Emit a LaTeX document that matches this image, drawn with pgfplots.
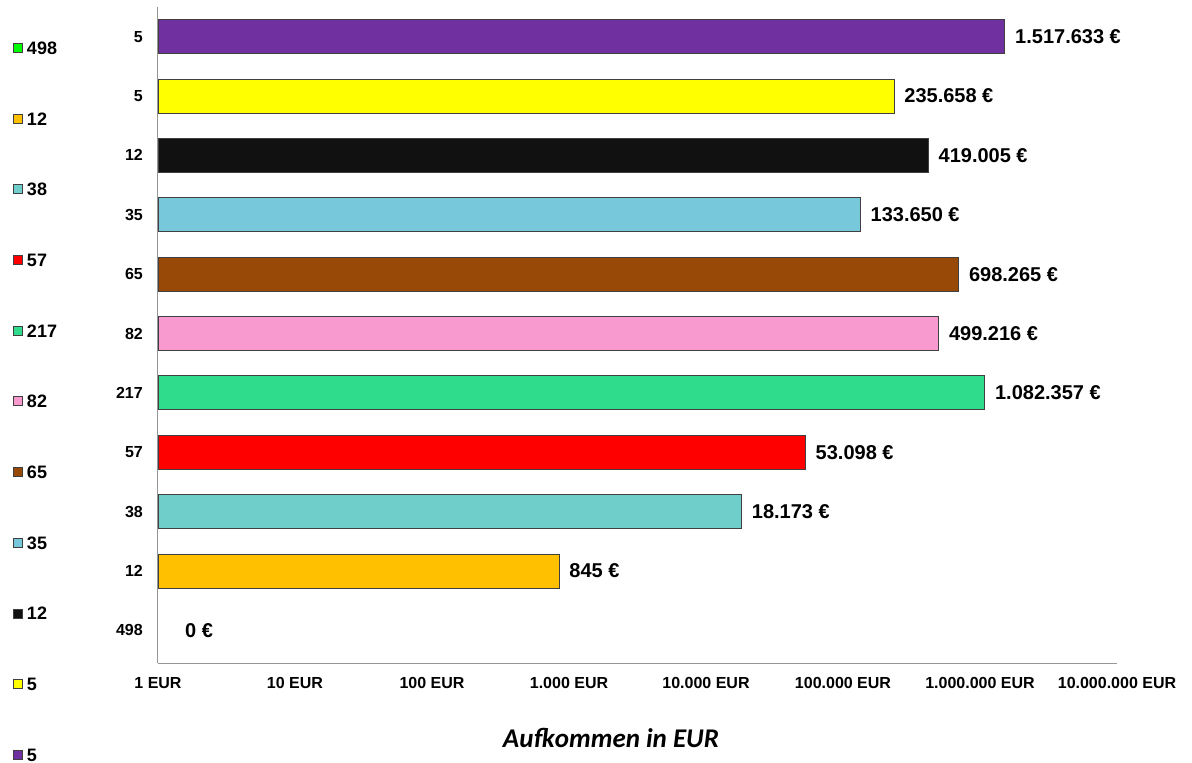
\documentclass[border=0pt]{standalone}
\usepackage{fontspec}
\setmainfont{Liberation Sans}
\newfontfamily\carlito{Carlito}
\usepackage{pgfplots}
\pgfplotsset{compat=1.18}

\definecolor{cgreen}{HTML}{00FF00}
\definecolor{corange}{HTML}{FFC000}
\definecolor{cteal}{HTML}{6FCDCA}
\definecolor{cred}{HTML}{FF0000}
\definecolor{cmint}{HTML}{2EDC8C}
\definecolor{cpink}{HTML}{F899CF}
\definecolor{cbrown}{HTML}{984807}
\definecolor{cblue}{HTML}{78C8DC}
\definecolor{cblack}{HTML}{111111}
\definecolor{cyellow}{HTML}{FFFF00}
\definecolor{cpurple}{HTML}{7030A0}
\definecolor{cedge}{HTML}{404040}

\pgfplotsset{
  sq/.style={fill=#1, draw=cedge, line width=0.8bp,
    legend image code/.code={\draw[draw=cedge, line width=0.8bp, fill=#1] (0bp,-4.5bp) rectangle (9bp,4.5bp);}},
}

\begin{document}
\begin{tikzpicture}
\path (-158bp,-100bp) rectangle (1034bp,663bp);
\begin{axis}[
    at={(0,0)}, anchor=south west,
    scale only axis,
    width=959bp, height=656bp,
    xmode=log, log basis x=10,
    xmin=1, xmax=1e7,
    ymin=-0.55, ymax=10.5,
    xbar, bar width=34bp, bar shift=0pt,
    axis x line*=bottom, axis y line*=left,
    axis line style={-, draw={rgb,255:red,150;green,150;blue,150}, line width=1bp},
    major tick length=0pt, minor tick num=0,
    xtick={1,10,100,1000,10000,100000,1000000,10000000},
    xticklabels={1 EUR,10 EUR,100 EUR,1.000 EUR,10.000 EUR,100.000 EUR,1.000.000 EUR,10.000.000 EUR},
    ytick={0,1,2,3,4,5,6,7,8,9,10},
    yticklabels={498,12,38,57,217,82,65,35,12,5,5},
    x tick label style={font=\fontsize{16bp}{18bp}\selectfont\bfseries, anchor=north, inner sep=0pt, yshift=-14bp},
    y tick label style={font=\fontsize{16bp}{18bp}\selectfont\bfseries, anchor=east, inner sep=0pt, xshift=-15bp},
    xlabel={Aufkommen in EUR},
    xlabel style={at={(axis description cs:0.4724,-0.1143)}, anchor=center,
      font=\carlito\fontsize{27bp}{30bp}\selectfont\bfseries\itshape},
    point meta=explicit symbolic,
    nodes near coords,
    every node near coord/.append style={anchor=west, inner sep=0pt, xshift=10bp,
      font=\fontsize{20bp}{22bp}\selectfont\bfseries, text=black},
    legend style={at={(axis description cs:-0.1512,0.948)}, anchor=north west,
      draw=none, fill=none, inner sep=0pt, row sep=57.7bp, column sep=4bp,
      font=\fontsize{18bp}{20bp}\selectfont\bfseries,
      nodes={inner sep=0pt, text height=13bp, text depth=0bp}},
    legend cell align=left,
  ]
\addplot[draw=none, fill=none,
  legend image code/.code={\draw[draw=cedge, line width=0.8bp, fill=cgreen] (0bp,-4.5bp) rectangle (9bp,4.5bp);},
  every node near coord/.append style={xshift=17bp}]
  coordinates {(1,0) [0 €]};
\addplot[sq=corange] coordinates {(845,1) [845 €]};
\addplot[sq=cteal]   coordinates {(18173,2) [18.173 €]};
\addplot[sq=cred]    coordinates {(53098,3) [53.098 €]};
\addplot[sq=cmint]   coordinates {(1082357,4) [1.082.357 €]};
\addplot[sq=cpink]   coordinates {(499216,5) [499.216 €]};
\addplot[sq=cbrown]  coordinates {(698265,6) [698.265 €]};
\addplot[sq=cblue]   coordinates {(133650,7) [133.650 €]};
\addplot[sq=cblack]  coordinates {(419005,8) [419.005 €]};
\addplot[sq=cyellow] coordinates {(235658,9) [235.658 €]};
\addplot[sq=cpurple] coordinates {(1517633,10) [1.517.633 €]};
\legend{498,12,38,57,217,82,65,35,12,5,5}
\end{axis}
\end{tikzpicture}
\end{document}
